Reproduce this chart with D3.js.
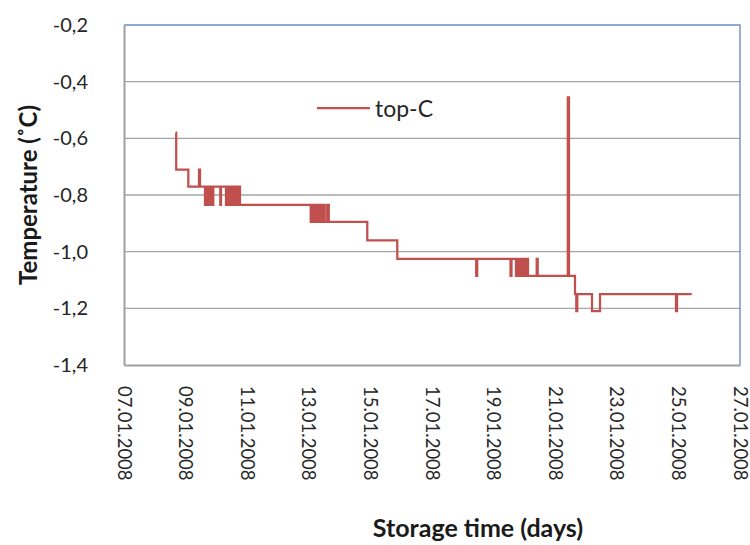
<!DOCTYPE html>
<html>
<head>
<meta charset="utf-8">
<script src="https://cdn.jsdelivr.net/npm/d3@7"></script>
<style>
  html, body { margin: 0; padding: 0; background: #fff; }
  svg { display: block; font-family: Lato, "Open Sans", sans-serif; }
</style>
</head>
<body>
<svg id="chart" width="750" height="545"></svg>
<script>
// Logger readings: fractional day of January 2008 and temperature (°C)
const seriesName = "top-C";
const readingDays = [
  8.679, 8.695, 9.088, 9.435, 9.468,
  9.630, 9.662, 9.695, 9.727, 9.760, 9.792, 9.825, 9.857, 9.880, 9.899,
  10.127, 10.149,
  10.312, 10.344, 10.377, 10.409, 10.442, 10.474, 10.506, 10.539, 10.571, 10.604,
  10.636, 10.669, 10.701, 10.734, 10.766,
  13.062, 13.094, 13.127, 13.159, 13.192, 13.224, 13.257, 13.289, 13.322, 13.354,
  13.387, 13.419, 13.452, 13.484, 13.517,
  13.597, 13.649,
  14.899, 15.873,
  18.435, 18.468, 19.549, 19.581,
  19.727, 19.760, 19.792, 19.825, 19.857, 19.890, 19.922, 19.955, 19.987, 20.019,
  20.052, 20.084, 20.117,
  20.399, 20.432,
  21.409, 21.448, 21.643, 21.685, 21.717, 22.195, 22.455, 24.922, 24.955, 25.432
];
const readingTemps = [
  -0.58, -0.71, -0.77, -0.71, -0.77,
  -0.835, -0.77, -0.835, -0.77, -0.835, -0.77, -0.835, -0.77, -0.835, -0.77,
  -0.835, -0.77,
  -0.835, -0.77, -0.835, -0.77, -0.835, -0.77, -0.835, -0.77, -0.835, -0.77,
  -0.835, -0.77, -0.835, -0.77, -0.835,
  -0.895, -0.835, -0.895, -0.835, -0.895, -0.835, -0.895, -0.835, -0.895, -0.835,
  -0.895, -0.835, -0.895, -0.835, -0.895,
  -0.835, -0.895,
  -0.96, -1.025,
  -1.085, -1.025, -1.085, -1.025,
  -1.085, -1.025, -1.085, -1.025, -1.085, -1.025, -1.085, -1.025, -1.085, -1.025,
  -1.085, -1.025, -1.085,
  -1.025, -1.085,
  -0.455, -1.085, -1.15, -1.21, -1.15, -1.21, -1.15, -1.21, -1.15, -1.15
];
const xTickLabels = [
  "07.01.2008", "09.01.2008", "11.01.2008", "13.01.2008", "15.01.2008", "17.01.2008",
  "19.01.2008", "21.01.2008", "23.01.2008", "25.01.2008", "27.01.2008"
];
const yTicks = [-0.2, -0.4, -0.6, -0.8, -1.0, -1.2, -1.4];
const yTitle = "Temperature (˚C)";
const xTitle = "Storage time (days)";

const svg = d3.select("#chart");
const plot = { left: 124, right: 740, top: 25, bottom: 365 };

const parseTick = d3.timeParse("%d.%m.%Y");
const formatTick = d3.timeFormat("%d.%m.%Y");
const tickDates = xTickLabels.map(parseTick);
const dayToDate = d => new Date(2008, 0, 1, 0, 0, 0, 0).getTime() + (d - 1) * 864e5;
const readings = readingDays.map((d, i) => ({ t: new Date(dayToDate(d)), v: readingTemps[i] }));

const x = d3.scaleTime()
  .domain([tickDates[0], tickDates[tickDates.length - 1]])
  .range([plot.left, plot.right]);
const y = d3.scaleLinear()
  .domain([-1.4, -0.2])
  .range([plot.bottom, plot.top]);

const locale = d3.formatLocale({ decimal: ",", thousands: ".", grouping: [3], currency: ["", ""], minus: "-" });
const fmtY = locale.format(".1f");

// horizontal gridlines
svg.append("g")
  .selectAll("line")
  .data(yTicks.slice(1, -1))
  .join("line")
  .attr("x1", plot.left).attr("x2", plot.right)
  .attr("y1", d => y(d)).attr("y2", d => y(d))
  .attr("stroke", "#a6a6a6")
  .attr("stroke-width", 1.3);

// plot border: top and right edges
svg.append("path")
  .attr("d", `M${plot.left},${y(-0.2)}H${plot.right}V${plot.bottom}`)
  .attr("fill", "none")
  .attr("stroke", "#6f8fc0")
  .attr("stroke-width", 1.4);

// y axis
const yAxis = svg.append("g")
  .attr("transform", `translate(${plot.left},0)`)
  .call(d3.axisLeft(y).tickValues(yTicks).tickFormat(fmtY).tickSize(0).tickPadding(36));
yAxis.select(".domain").attr("stroke", "#a0a0a0").attr("stroke-width", 2);
yAxis.selectAll("text")
  .attr("font-family", "Lato, sans-serif")
  .attr("font-size", 20)
  .attr("fill", "#262626");

// x axis
const xAxis = svg.append("g")
  .attr("transform", `translate(0,${plot.bottom})`)
  .call(d3.axisBottom(x).tickValues(tickDates).tickFormat(formatTick).tickSize(0).tickPadding(0));
xAxis.select(".domain").attr("stroke", "#a0a0a0").attr("stroke-width", 2);
xAxis.selectAll("text")
  .attr("font-family", "Lato, sans-serif")
  .attr("font-size", 18.5)
  .attr("fill", "#262626")
  .attr("text-anchor", "start")
  .attr("dy", null)
  .attr("y", null)
  .attr("dominant-baseline", "central")
  .attr("transform", "translate(0,21) rotate(90)");

// temperature trace
const line = d3.line()
  .x(d => x(d.t))
  .y(d => y(d.v))
  .curve(d3.curveStepAfter);
svg.append("path")
  .datum(readings)
  .attr("d", line)
  .attr("fill", "none")
  .attr("stroke", "#c0504d")
  .attr("stroke-width", 2.25)
  .attr("stroke-linejoin", "miter");

// legend
const legend = svg.append("g").attr("transform", "translate(317,108)");
legend.append("line")
  .attr("x1", 0).attr("x2", 53).attr("y1", 0).attr("y2", 0)
  .attr("stroke", "#c0504d").attr("stroke-width", 2.25);
legend.append("text")
  .attr("x", 58).attr("y", 0)
  .attr("dominant-baseline", "central")
  .attr("font-size", 23)
  .attr("fill", "#262626")
  .text(seriesName);

// axis titles
svg.append("text")
  .attr("transform", `translate(37,195) rotate(-90)`)
  .attr("text-anchor", "middle")
  .attr("font-size", 24)
  .attr("font-weight", "bold")
  .attr("fill", "#1a1a1a")
  .text(yTitle);
svg.append("text")
  .attr("x", 478).attr("y", 537)
  .attr("text-anchor", "middle")
  .attr("font-size", 25)
  .attr("font-weight", "bold")
  .attr("fill", "#1a1a1a")
  .text(xTitle);
</script>
</body>
</html>
